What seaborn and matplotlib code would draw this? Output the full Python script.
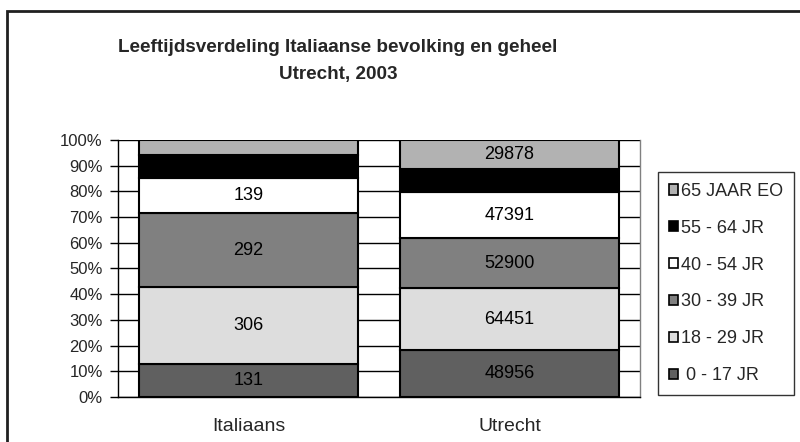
import matplotlib
matplotlib.use("Agg")
import matplotlib.pyplot as plt
import matplotlib.patches as mpatches
import seaborn as sns
import numpy as np
import pandas as pd

# data
categories = ["Italiaans", "Utrecht"]
groups = [" 0 - 17 JR", "18 - 29 JR", "30 - 39 JR", "40 - 54 JR", "55 - 64 JR", "65 JAAR EO"]
italiaans = [131, 306, 292, 139, 91, 61]
utrecht = [48956, 64451, 52900, 47391, 25000, 29878]
# which segments carry a value label
show_it = [True, True, True, True, False, False]
show_ut = [True, True, True, True, False, True]
colors = ["#606060", "#DDDDDD", "#808080", "#FFFFFF", "#000000", "#B2B2B2"]

df = pd.DataFrame({"Italiaans": italiaans, "Utrecht": utrecht}, index=groups)
pct = df / df.sum() * 100
bottoms = pct.cumsum() - pct

sns.set_style("white")
plt.rcParams["font.family"] = ["Liberation Sans", "DejaVu Sans"]

fig = plt.figure(figsize=(8, 4.42), dpi=100)
ax = fig.add_axes([0.1475, 0.1018, 0.6525, 0.5815])

for g, c in zip(groups, colors):
    sns.barplot(x=categories, y=pct.loc[g].values, bottom=bottoms.loc[g].values,
                color=c, edgecolor="black", linewidth=1.5, width=0.84,
                saturation=1, ax=ax, zorder=3)

for cont, g in zip(ax.containers, groups):
    i = groups.index(g)
    labs = [str(df.loc[g, "Italiaans"]) if show_it[i] else "",
            str(df.loc[g, "Utrecht"]) if show_ut[i] else ""]
    ax.bar_label(cont, labels=labs, label_type="center", fontsize=13, color="black")

ax.set_ylim(0, 100)
ax.set_xlim(-0.5, 1.5)
ax.set_yticks(np.arange(0, 101, 10))
ax.set_yticklabels([f"{v}%" for v in range(0, 101, 10)], fontsize=12)
ax.set_xticks([0, 1])
ax.set_xticklabels(categories, fontsize=14)
ax.set_xticks([-0.5, 0.5, 1.5], minor=True)
ax.tick_params(axis="x", which="major", length=0, pad=15)
ax.tick_params(axis="x", which="minor", length=6, width=1, color="black", direction="out")
ax.tick_params(axis="y", length=6, width=1, color="black", direction="out", pad=5, left=True)
ax.yaxis.grid(True, color="black", linewidth=1)
ax.set_axisbelow(True)
ax.set_xlabel("")
ax.set_ylabel("")
for s in ["left", "bottom"]:
    ax.spines[s].set_color("black")
    ax.spines[s].set_linewidth(1)
ax.spines["right"].set_color("#808080")
ax.spines["right"].set_linewidth(1)
ax.spines["top"].set_visible(False)

handles = [mpatches.Patch(facecolor=c, edgecolor="black", linewidth=1.2, label=g)
           for g, c in zip(groups, colors)][::-1]
leg = fig.legend(handles=handles, loc="upper left", bbox_to_anchor=(658 / 800, 1 - 172 / 442),
                 frameon=True, fancybox=False, edgecolor="black", fontsize=13,
                 handlelength=0.5, handleheight=0.5, handletextpad=0.2,
                 labelspacing=1.1, borderpad=0.6, borderaxespad=0)
leg.get_frame().set_linewidth(1)

fig.text(0.4225, 1 - 47 / 442, "Leeftijdsverdeling Italiaanse bevolking en geheel",
         ha="center", va="center", fontsize=13.6, fontweight="bold")
fig.text(0.4225, 1 - 75 / 442, "Utrecht, 2003",
         ha="center", va="center", fontsize=13.6, fontweight="bold")

border = mpatches.Rectangle((7 / 800, -0.1), 1.2, 1 - 11 / 442 + 0.1, transform=fig.transFigure,
                            fill=False, edgecolor="#202020", linewidth=2)
fig.patches.append(border)

fig.savefig("out.png", dpi=100)
